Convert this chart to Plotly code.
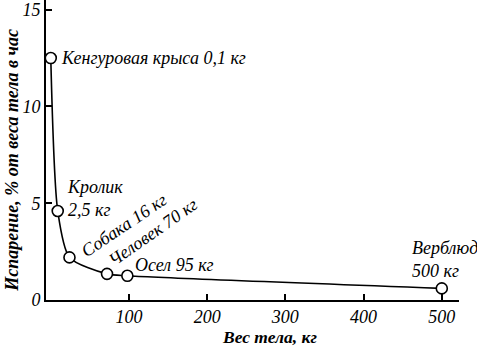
import plotly.graph_objects as go

animals = ["Кенгуровая крыса 0,1 кг", "Кролик<br>2,5 кг", "Собака 16 кг", "Человек 70 кг", "Осел 95 кг", "Верблюд<br>500 кг"]
weight = [0.1, 9, 24, 72, 98, 500]
evap = [12.5, 4.6, 2.2, 1.35, 1.25, 0.6]
x_ticks = [100, 200, 300, 400, 500]
y_ticks = [0, 5, 10, 15]

FONT = "Liberation Serif"

fig = go.Figure()
fig.add_trace(go.Scatter(
    x=weight, y=evap, mode="lines+markers",
    line=dict(color="black", width=1.6, shape="spline", smoothing=0.7),
    marker=dict(size=11, color="white", line=dict(color="black", width=1.6)),
    showlegend=False, cliponaxis=False,
))

tf = dict(family=FONT, size=18, color="black", style="italic")
fig.update_xaxes(range=[-6, 522], showline=True, linecolor="black", linewidth=1.6,
                 ticks="inside", ticklen=6, tickwidth=1.6, tickcolor="black",
                 tickvals=x_ticks, tickfont=tf, showgrid=False, zeroline=False,
                 automargin=False, ticklabeloverflow="allow")
fig.update_yaxes(range=[0, 15.5], showline=True, linecolor="black", linewidth=1.6,
                 ticks="inside", ticklen=6, tickwidth=1.6, tickcolor="black",
                 tickvals=y_ticks, tickfont=tf, showgrid=False, zeroline=False,
                 automargin=False, ticklabeloverflow="allow")

af = dict(family=FONT, size=18, color="black", style="italic")
ann = [
    dict(x=weight[0], y=evap[0], text=animals[0], xanchor="left", yanchor="middle", xshift=8, yshift=0, textangle=0),
    dict(x=weight[1], y=evap[1], text=animals[1], xanchor="left", yanchor="middle", xshift=7, yshift=12.5, textangle=0, align="left"),
    dict(x=weight[2], y=evap[2], text=animals[2], xanchor="center", yanchor="middle", xshift=55, yshift=32, textangle=-34),
    dict(x=weight[3], y=evap[3], text=animals[3], xanchor="center", yanchor="middle", xshift=46, yshift=42, textangle=-35),
    dict(x=weight[4], y=evap[4], text=animals[4], xanchor="left", yanchor="middle", xshift=6, yshift=11, textangle=0),
    dict(x=weight[5], y=evap[5], text=animals[5], xanchor="left", yanchor="middle", xshift=-32, yshift=28.5, textangle=0, align="left"),
]
for a in ann:
    a.update(xref="x", yref="y", showarrow=False, font=af)
    fig.add_annotation(**a)

titlef = dict(family=FONT, size=17.5, color="black", style="italic", weight="bold")
fig.add_annotation(xref="paper", yref="paper", x=0.541, y=-0.123, text="Вес тела, кг",
                   showarrow=False, font=titlef, xanchor="center", yanchor="middle")
fig.add_annotation(xref="paper", yref="paper", x=-0.082, y=0.465, text="Испарение, % от веса тела в час",
                   showarrow=False, font=dict(titlef, size=18), xanchor="center", yanchor="middle", textangle=-90)

fig.update_layout(width=477, height=356, margin=dict(l=46, r=18, t=0, b=56),
                  plot_bgcolor="white", paper_bgcolor="white",
                  font=dict(family=FONT))
fig.write_html("out.html", config={"displayModeBar": False},
               post_script="document.body.style.margin='0';")
